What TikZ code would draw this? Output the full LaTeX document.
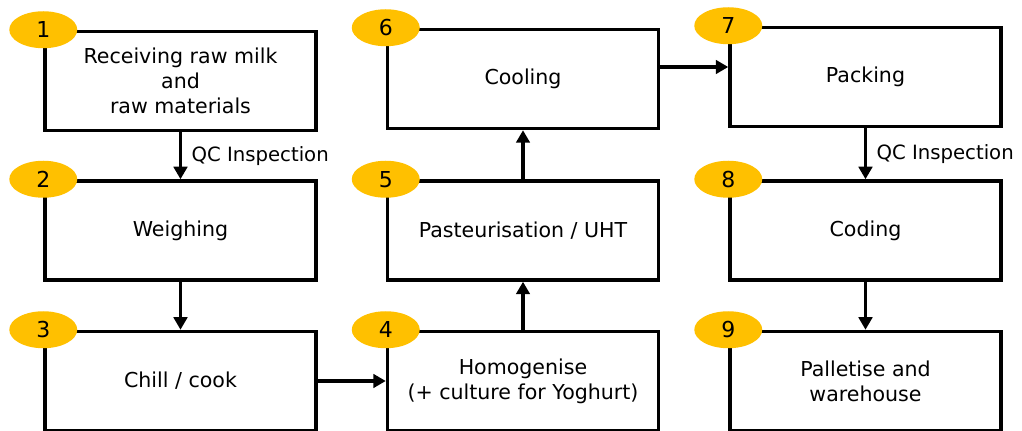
\documentclass[tikz,border=0pt]{standalone}
\usepackage{fontspec}
\setmainfont{DejaVu Sans}
\usetikzlibrary{
    positioning,
    arrows.meta,
    shapes.geometric
}
\definecolor{badgegold}{HTML}{FFC000}
\tikzset{
    >={Triangle[length=2.5mm,width=2.7mm]},
    stepbox/.style={
        draw,
        line width=2pt,
        minimum width=5.42cm,
        minimum height=1.98cm,
        inner sep=2pt,
        align=center,
        font=\fontsize{11.7}{14.4}\selectfont
    },
    badge/.style={
        ellipse,
        fill=badgegold,
        minimum width=1.36cm,
        minimum height=0.74cm,
        inner sep=0pt,
        font=\fontsize{12.5}{14}\selectfont
    },
    flow/.style={
        line width=2pt
    },
    qclabel/.style={
        right=2pt,
        font=\fontsize{11.2}{13}\selectfont
    }
}

\begin{document}
\begin{tikzpicture}[
    x=0.02cm, y=-0.02cm,
    auto
]
    \useasboundingbox (0,0) rectangle (1022,431);

    % Steps
    \node[stepbox] (s1) at (180.5,81)  {Receiving raw milk\\and\\raw materials};
    \node[stepbox] (s2) at (180.5,230.5) {Weighing};
    \node[stepbox] (s3) at (180.5,381) {Chill / cook};
    \node[stepbox] (s4) at (523,381)   {Homogenise\\(+ culture for Yoghurt)};
    \node[stepbox] (s5) at (523,230.5) {Pasteurisation / UHT};
    \node[stepbox] (s6) at (523,79)    {Cooling};
    \node[stepbox] (s7) at (865.5,77)  {Packing};
    \node[stepbox] (s8) at (865.5,230.5) {Coding};
    \node[stepbox] (s9) at (865.5,381) {Palletise and\\warehouse};

    % Numbers
    \foreach \n in {1,...,9}
        \node[badge] (b\n) at (s\n.north west) {\n};

    % Flow
    \path[->, every edge/.append style={flow}]

        % First column, downwards
        (s1) edge node[qclabel] {QC Inspection} (s2)
        (s2) edge (s3)
        (s3) edge (s4)

        % Second column, upwards
        (s4) edge (s5)
        (s5) edge (s6)
        ([yshift=0.24cm]s6.east) edge ([yshift=0.2cm]s7.west)

        % Third column, downwards
        (s7) edge node[qclabel] {QC Inspection} (s8)
        (s8) edge (s9);

\end{tikzpicture}
\end{document}
